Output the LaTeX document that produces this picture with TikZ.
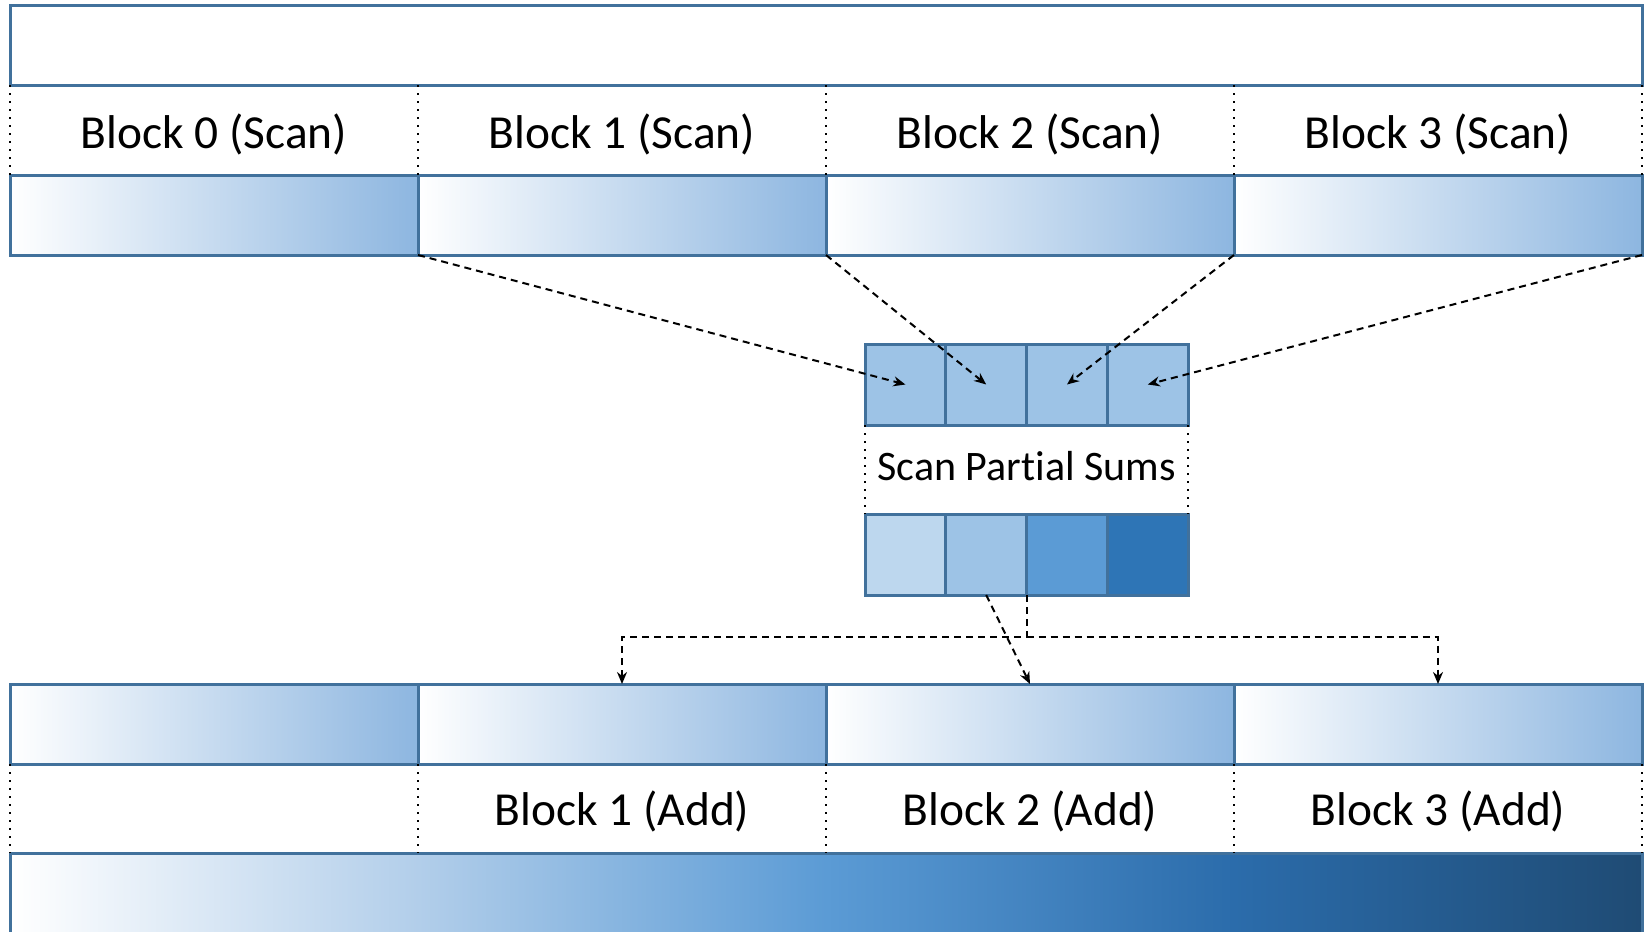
\documentclass[tikz,border=0pt]{standalone}
\usepackage{fontspec}
\setmainfont{Carlito}[RawFeature={-liga;-clig;-calt;-dlig}]
\usetikzlibrary{positioning,arrows.meta}

\definecolor{edgeblue}{RGB}{65,113,156}
\definecolor{fadeblue}{RGB}{141,182,224}
\definecolor{sumA}{RGB}{189,215,238}
\definecolor{sumB}{RGB}{157,195,230}
\definecolor{sumC}{RGB}{91,155,213}
\definecolor{sumD}{RGB}{46,117,182}
\definecolor{barA}{RGB}{178,206,234}
\definecolor{barC}{RGB}{43,108,171}
\definecolor{barD}{RGB}{31,75,116}

\pgfdeclarehorizontalshading{totalbar}{100bp}{color(0bp)=(white); color(25bp)=(white); color(37.5bp)=(barA); color(50bp)=(sumC); color(62.5bp)=(barC); color(75bp)=(barD); color(100bp)=(barD)}

\tikzset{
	box/.style = {draw=edgeblue, line width=1.5pt, inner sep=0pt, outer sep=0pt},
	blockbar/.style = {box, minimum width=204pt, minimum height=40pt, left color=white, right color=fadeblue},
	cell/.style = {box, minimum width=40.4pt, minimum height=40.5pt},
	lab/.style = {font=\fontsize{23.7}{28}\selectfont, inner sep=0pt},
	dotline/.style = {line width=1.2pt, dash pattern=on 1.2pt off 2.8pt},
	flow/.style = {line width=1pt, dash pattern=on 3.5pt off 2.5pt, -{Stealth[length=6pt,width=5pt]}},
}

\begin{document}
\begin{tikzpicture}[x=0.5pt,y=-0.5pt]

	\clip (0,0) rectangle (1650,932);

	\node[box, fill=white, minimum width=816pt, minimum height=40pt, anchor=north west] (top) at (10,5) {};

	% scan blocks
	\node[blockbar, anchor=north west] (scan0) at (10,175) {};
	\node[blockbar, right=0pt of scan0] (scan1) {};
	\node[blockbar, right=0pt of scan1] (scan2) {};
	\node[blockbar, right=0pt of scan2] (scan3) {};

	\draw[dotline] (top.south west) -- (scan0.north west);
	\foreach \i in {0,...,3}{
		\node[lab] (slab\i) at ([yshift=20.5pt]scan\i.north) {Block \i{} (Scan)};
		\draw[dotline] (top.south -| scan\i.north east) -- (scan\i.north east);
	}

	% partial sums
	\node[cell, fill=sumB, anchor=north west] (p0) at (865,344) {};
	\node[cell, fill=sumB, right=0pt of p0] (p1) {};
	\node[cell, fill=sumB, right=0pt of p1] (p2) {};
	\node[cell, fill=sumB, right=0pt of p2] (p3) {};

	\node[lab, font=\fontsize{21}{25}\selectfont] (plab) at ([yshift=-20.5pt]p1.south east) {Scan Partial Sums};

	\node[cell, fill=sumA, anchor=north west] (s0) at (865,514) {};
	\node[cell, fill=sumB, right=0pt of s0] (s1) {};
	\node[cell, fill=sumC, right=0pt of s1] (s2) {};
	\node[cell, fill=sumD, right=0pt of s2] (s3) {};

	\draw[dotline] (p0.south west) -- (s0.north west);
	\draw[dotline] (p3.south east) -- (s3.north east);

	\draw[flow] (scan0.south east) -- (p0.center);
	\draw[flow] (scan1.south east) -- (p1.center);
	\draw[flow] (scan2.south east) -- (p2.center);
	\draw[flow] (scan3.south east) -- (p3.center);

	% add blocks
	\node[blockbar, anchor=north west] (add0) at (10,684) {};
	\node[blockbar, right=0pt of add0] (add1) {};
	\node[blockbar, right=0pt of add1] (add2) {};
	\node[blockbar, right=0pt of add2] (add3) {};

	\node[box, shading=totalbar, minimum width=816pt, minimum height=50pt, anchor=north west] (total) at (10,853) {};

	\draw[dotline] (add0.south west) -- (total.north west);
	\foreach \i in {0,...,3}
		\draw[dotline] (add\i.south east) -- (total.north -| add\i.south east);
	\foreach \i in {1,2,3}
		\node[lab] (alab\i) at ([yshift=-23.5pt]add\i.south) {Block \i{} (Add)};

	\draw[flow] (s1.south) -- (add2.north);
	\coordinate[below=21pt of s2.south west] (split);
	\draw[flow] (s2.south west) -- (split) -| (add1.north);
	\draw[flow] (split) -| (add3.north);

\end{tikzpicture}
\end{document}
